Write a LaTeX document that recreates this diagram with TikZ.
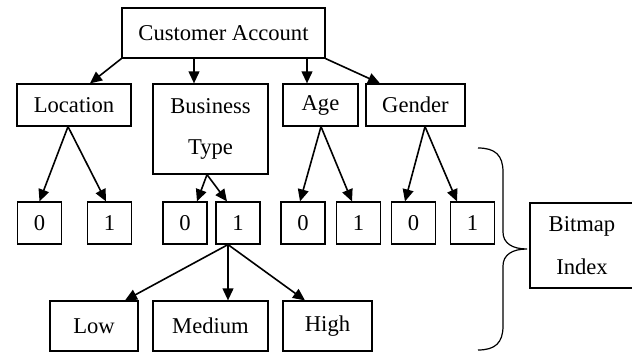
\documentclass[tikz,border=0pt]{standalone}
\usepackage{fontspec}
\setmainfont{Liberation Serif}
\usepackage{tikz}
\usetikzlibrary{arrows.meta}
\usetikzlibrary{calc}

\tikzset{
	box/.style={draw, line width=0.6pt, inner sep=0pt, align=center,
		font=\fontsize{11.3}{13.6}\selectfont},
	bit/.style={box, minimum width=22pt, minimum height=21pt},
	arr/.style={-{Triangle[length=6pt,width=5.4pt]}, line width=0.8pt}
}

\begin{document}
\begin{tikzpicture}[x=0.5pt,y=-0.5pt]
		\useasboundingbox (0,0) rectangle (632,352);
		
		% top level
		\node[box, minimum width=101.5pt, minimum height=25pt] (cust) at (223.5,33) {Customer Account};
		\node[box, minimum width=57pt, minimum height=21pt] (loc) at (74,105) {Location};
		\node[box, minimum width=57.5pt, minimum height=45pt] (btype) at (210.5,129) {Business\\[6.5pt]Type};
		\node[box, minimum width=37.5pt, minimum height=21pt] (age) at (320.5,105) {Age};
		\node[box, minimum width=49.5pt, minimum height=21pt] (gender) at (415.5,105) {Gender};
		
		% bit values
		\node[bit] (l0) at (39.5,223) {0};
		\node[bit] (l1) at (109.5,223) {1};
		\node[bit] (b0) at (185,223) {0};
		\node[bit] (b1) at (238,223) {1};
		\node[bit] (a0) at (303,223) {0};
		\node[bit] (a1) at (358.5,223) {1};
		\node[bit] (g0) at (413.5,223) {0};
		\node[bit] (g1) at (472.5,223) {1};
		
		\node[box, minimum width=44pt, minimum height=25pt] (low) at (94,326) {Low};
		\node[box, minimum width=57.5pt, minimum height=25pt] (med) at (210.5,326) {Medium};
		\node[box, minimum width=44.5pt, minimum height=25pt] (high) at (327.5,326) {High};
		
		\node[box, minimum width=52pt, minimum height=42.5pt] (bmap) at (582,245.5) {Bitmap\\[8pt]Index};
		
		% attribute arrows
		\coordinate (btin) at ($(btype.north)+(-16.5,0)$);
		\coordinate (agein) at ($(age.north)+(-13.5,0)$);
		\draw[arr] (cust.south west) -- ($(loc.north)+(16,0)$);
		\draw[arr] (cust.south -| btin) -- (btin);
		\draw[arr] (cust.south -| agein) -- (agein);
		\draw[arr] (cust.south east) -- ($(gender.north)+(-35.5,0)$);
		
		% forks down to the bits
		\coordinate (locf) at ($(loc.south)+(-6,0)$);
		\coordinate (btf) at ($(btype.south)+(-3.5,0)$);
		\coordinate (agef) at ($(age.south)+(0.5,0)$);
		\coordinate (genf) at ($(gender.south)+(9.5,0)$);
		\coordinate (bitf) at ($(b1.south)+(-10,0)$);
		
		\draw[arr] (locf) -- (l0.north);
		\draw[arr] (locf) -- ($(l1.north)+(-3.5,0)$);
		\draw[arr] (btf) -- ($(b0.north)+(12,0)$);
		\draw[arr] (btf) -- ($(b1.north)+(-11,0)$);
		\draw[arr] (agef) -- ($(a0.north)+(-3,0)$);
		\draw[arr] (agef) -- ($(a1.north)+(-6.5,0)$);
		\draw[arr] (genf) -- ($(g0.north)+(-8.5,0)$);
		\draw[arr] (genf) -- ($(g1.north)+(-15.5,0)$);
		
		\draw[arr] (bitf) -- ($(low.north)+(31,0)$);
		\draw[arr] (bitf) -- ($(med.north)+(17.5,0)$);
		\draw[arr] (bitf) -- ($(high.north)+(-22.5,0)$);
		
		% brace
		\draw[line width=0.6pt] (478,148) .. controls (495,148) and (503,155) .. (503,172)
			-- (503,232) .. controls (503,243) and (512,249) .. (527,249)
			.. controls (512,249) and (503,255) .. (503,266)
			-- (503,326) .. controls (503,343) and (495,350) .. (478,350);
	\end{tikzpicture}
\end{document}
